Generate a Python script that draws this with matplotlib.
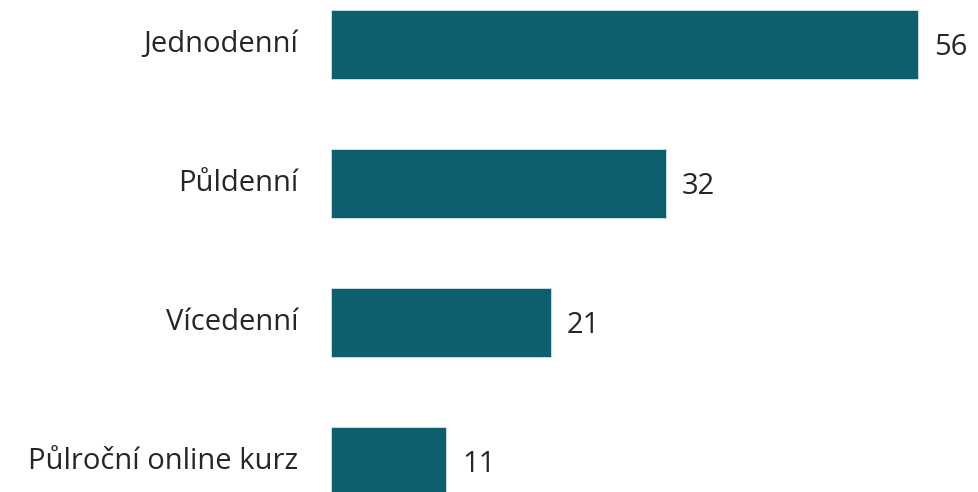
import matplotlib
matplotlib.use("Agg")
import matplotlib.pyplot as plt

categories = ["Jednodenní", "Půldenní", "Vícedenní", "Půlroční online kurz"]
values = [56, 32, 21, 11]

plt.rcParams['font.family'] = ['Open Sans', 'DejaVu Sans']

fig = plt.figure(figsize=(9.79, 4.92), dpi=100)
ax = fig.add_axes([331/979, 0, (979-331)/979, 1])

bar_color = "#0d5f6e"
text_color = "#262626"
ypos = list(range(len(categories)))
ax.barh(ypos, values, height=0.5, color=bar_color, edgecolor="#d0e4e8", linewidth=0.6)

ax.set_xlim(0, (979-331)/10.48)
ax.set_ylim(3 + (492-461.5)/139, -44.5/139)

for y, v in zip(ypos, values):
    ax.text(v + 1.5, y + 0.02, str(v), va="center", ha="left", fontsize=21,
            color=text_color)

for y, c in zip(ypos, categories):
    ax.text(-3.1, y, c, va="center", ha="right", fontsize=21, color=text_color,
            clip_on=False)

ax.axis("off")
fig.savefig("out.png", dpi=100)
